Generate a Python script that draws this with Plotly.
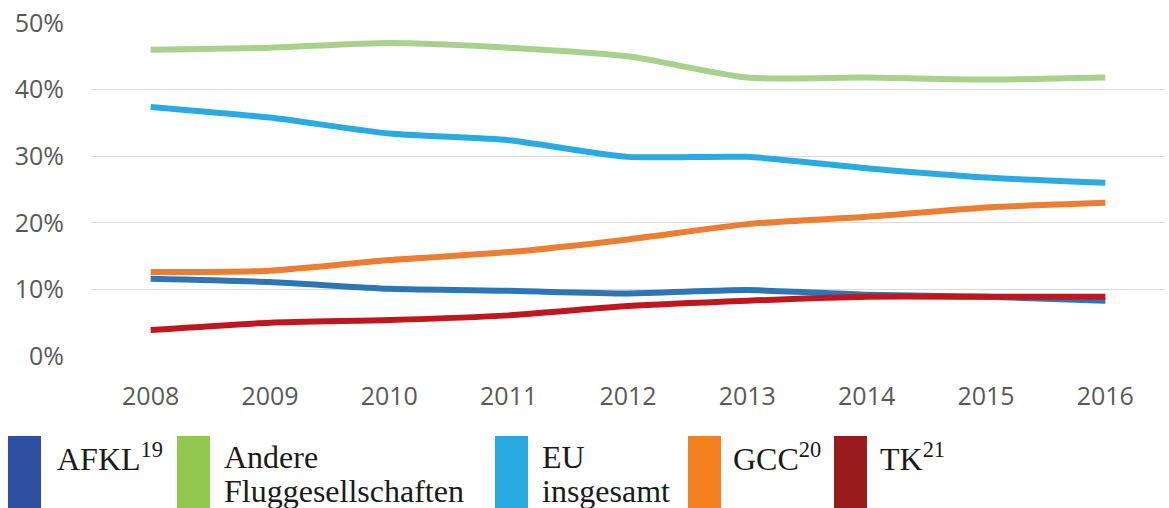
import plotly.graph_objects as go

years = ["2008", "2009", "2010", "2011", "2012", "2013", "2014", "2015", "2016"]
andere = [46.0, 46.3, 47.0, 46.3, 45.0, 41.8, 41.8, 41.5, 41.8]
eu = [37.4, 35.8, 33.4, 32.4, 29.9, 29.9, 28.2, 26.8, 26.0]
gcc = [12.6, 12.8, 14.4, 15.6, 17.5, 19.8, 20.9, 22.3, 23.0]
afkl = [11.6, 11.1, 10.1, 9.8, 9.4, 9.9, 9.2, 8.9, 8.3]
tk = [3.9, 5.0, 5.4, 6.1, 7.5, 8.3, 8.9, 8.9, 8.9]
yticks = [0, 10, 20, 30, 40, 50]
ytick_labels = ["0%", "10%", "20%", "30%", "40%", "50%"]

series = [
    ("Andere Fluggesellschaften", andere, "#A9D18E"),
    ("EU insgesamt", eu, "#29ABE2"),
    ("GCC", gcc, "#ED7D31"),
    ("AFKL", afkl, "#2E75B6"),
    ("TK", tk, "#C0171F"),
]

legend_items = [
    ("#2F4FA2", ["AFKL<sup>19</sup>"]),
    ("#92C850", ["Andere", "Fluggesellschaften"]),
    ("#29ABE2", ["EU", "insgesamt"]),
    ("#F48120", ["GCC<sup>20</sup>"]),
    ("#991B1E", ["TK<sup>21</sup>"]),
]
legend_rect_x = [8, 177, 495, 688, 834]
legend_text_x = [55, 222, 540, 731, 878]

W, H = 1169, 508
ML, MR, MT, MB = 91, 4, 23, 152
PW, PH = W - ML - MR, H - MT - MB


def px_x(x):
    return (x - ML) / PW


def px_y(y):
    return (H - MB - y) / PH


fig = go.Figure()
for name, vals, col in series:
    fig.add_trace(go.Scatter(
        x=years, y=vals, mode="lines", name=name,
        line=dict(color=col, width=6, shape="spline", smoothing=0.6),
        showlegend=False,
    ))

shapes = []
annotations = []
for (col, lines), rx, tx in zip(legend_items, legend_rect_x, legend_text_x):
    shapes.append(dict(type="rect", xref="paper", yref="paper",
                       x0=px_x(rx), x1=px_x(rx + 33), y0=px_y(436), y1=px_y(510),
                       fillcolor=col, line=dict(width=0), layer="above"))
    for i, t in enumerate(lines):
        annotations.append(dict(
            text=t, xref="paper", yref="paper", x=px_x(tx), y=px_y(457 + 34 * i),
            xanchor="left", yanchor="middle", showarrow=False,
            font=dict(family="Liberation Serif", size=32, color="#1a1a1a"),
        ))

fig.update_layout(
    width=W, height=H,
    margin=dict(l=ML, r=MR, t=MT, b=MB, pad=0, autoexpand=False),
    paper_bgcolor="white", plot_bgcolor="white",
    shapes=shapes, annotations=annotations,
    xaxis=dict(
        type="category", range=[-0.5, 8.5], showgrid=False, showline=False,
        zeroline=False, ticks="", automargin=False,
        tickfont=dict(family="Open Sans", size=25, color="#595959"),
        ticklabelstandoff=23,
    ),
    yaxis=dict(
        range=[0, 50], tickvals=yticks, ticktext=ytick_labels,
        showgrid=True, gridcolor="#D9D9D9", gridwidth=1.3, zeroline=False,
        showline=False, ticks="", automargin=False,
        tickfont=dict(family="Open Sans", size=25, color="#595959"),
        ticklabelstandoff=26,
    ),
)

fig.write_html("out.html", config={"displayModeBar": False},
               post_script="document.body.style.margin='0';")
